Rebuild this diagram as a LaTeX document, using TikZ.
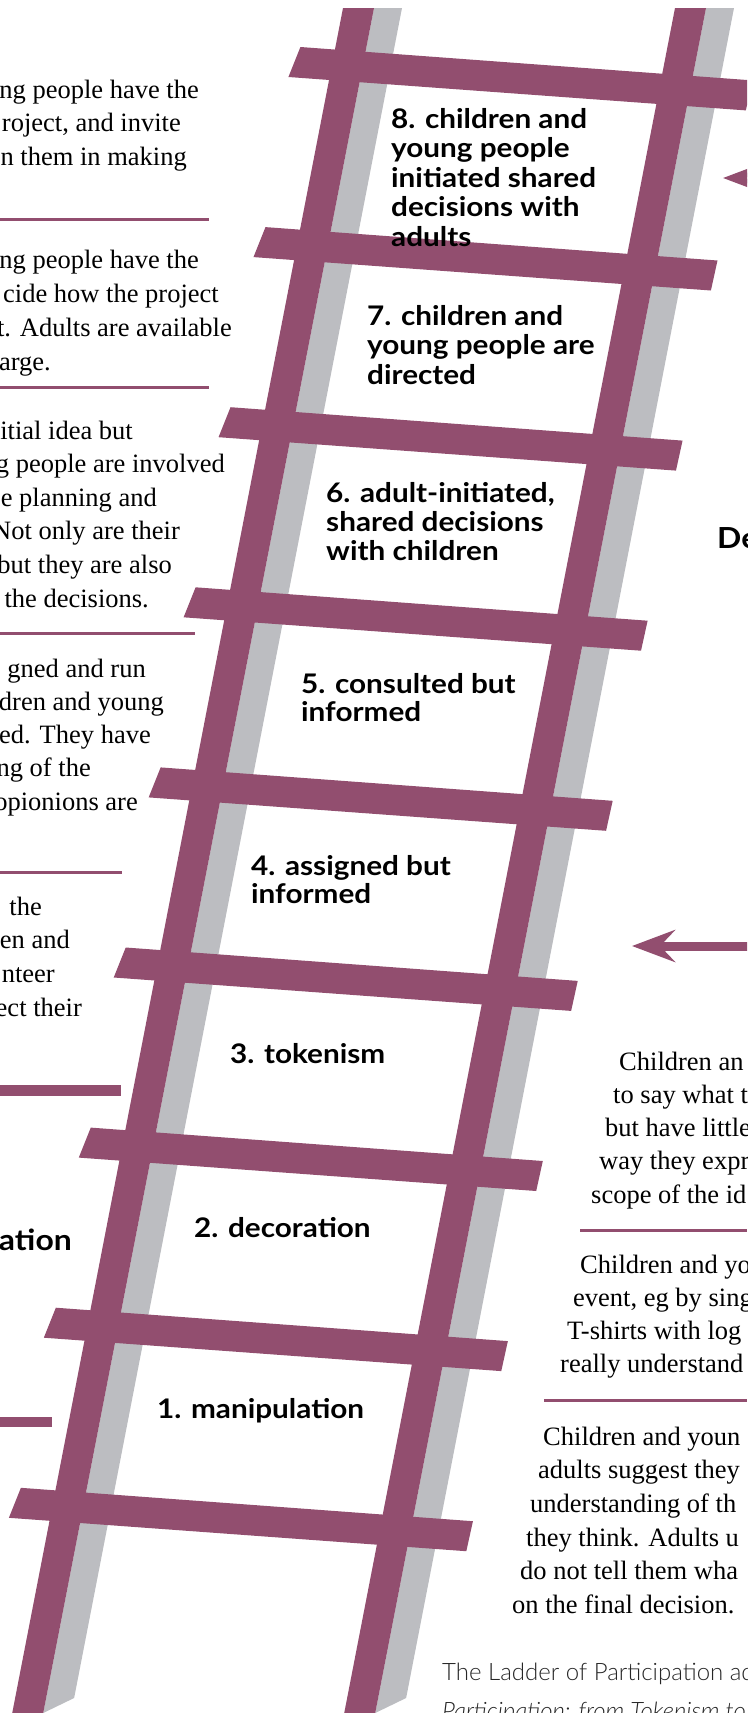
\documentclass[tikz,border=0pt]{standalone}
\usepackage{fontspec}
\setmainfont{Liberation Serif}
\newfontfamily\lblfont{Lato}[FakeStretch=1.1]
\IfFontExistsTF{Lato Light}{\newfontfamily\footfont{Lato Light}}{\newfontfamily\footfont{Lato}}
\usetikzlibrary{arrows.meta}
\definecolor{purp}{RGB}{146,78,111}
\definecolor{railgray}{RGB}{188,189,193}
\newcommand\txtlines[5]{%
  \foreach \xx/\tx [count=\i] in {#5}{%
    \node[#2] (#1\i) at (\xx,{#3+#4*(\i-1)}) {\tx};}}
\begin{document}
\begin{tikzpicture}[x=1pt,y=-1pt,
  body/.style={font=\fontsize{26.5}{33.7}\selectfont, inner sep=0pt, text=black},
  bodyE/.style={body, anchor=base east},
  bodyW/.style={body, anchor=base west},
  lbl/.style={font=\lblfont\bfseries\fontsize{27}{29.3}\selectfont, inner sep=0pt, anchor=base west, text=black},
  bigl/.style={font=\lblfont\bfseries\fontsize{29}{30}\selectfont, inner sep=0pt, text=black},
  foot/.style={font=\footfont\fontsize{24}{28}\selectfont, text=black!85, inner sep=0pt, anchor=base west},
  rail/.style={fill=purp},
  shade/.style={fill=railgray},
  sep/.style={draw=purp, line width=3pt},
  bar/.style={fill=purp},
  arrowline/.style={draw=purp, line width=9pt, -{Stealth[length=43pt,width=32pt,inset=15pt]}}
]
\useasboundingbox (0,0) rectangle (747,1713);
\clip (0,0) rectangle (747,1713);

% shadow faces of the rails
\fill[shade] (374,8) -- (402,8) -- (74.14,1698) -- (43.23,1713) -- (39.93,1730) -- cycle;
\fill[shade] (706,8) -- (734,8) -- (406.14,1698) -- (375.23,1713) -- (371.93,1730) -- cycle;
% rails
\fill[rail] (343,8) -- (374,8) -- (39.93,1730) -- (8.93,1730) -- cycle;
\fill[rail] (675,8) -- (706,8) -- (371.93,1730) -- (340.93,1730) -- cycle;
% rungs
\foreach \k in {1,...,9}{%
  \pgfmathsetmacro\yk{47+180.1*(\k-1)}%
  \pgfmathsetmacro\xk{343-0.194*(\yk-8)-35}%
  \fill[rail] (\xk,\yk) -- ++(452,33.4) -- ++(-6.6,30) -- (\xk-12,\yk+30) -- cycle;
}

% separators, left column
\draw[sep] (0,219) -- (209,219);
\draw[sep] (0,387) -- (209,387);
\draw[sep] (0,633) -- (195,633);
\draw[sep] (0,872) -- (122,872);
\fill[bar] (0,1085) rectangle (121,1096);
\fill[bar] (0,1417) rectangle (52,1427);
% separators, right column
\draw[sep] (580,1230) -- (747,1230);
\draw[sep] (544,1400) -- (747,1400);

% arrows
\coordinate (a1s) at (800,178);
\coordinate (a1e) at (723,178);
\draw[arrowline] (a1s) -- (a1e);
\coordinate (a2s) at (800,946);
\coordinate (a2e) at (632,946);
\draw[arrowline] (a2s) -- (a2e);

% left column text
\txtlines{ta}{bodyE}{98}{33.7}{199/ng people have the, 181/{roject, and invite}, 187/n them in making}
\txtlines{tb}{bodyE}{268}{34}{199/ng people have the, 219/cide how the project, 232/t. Adults are available, 51/harge.}
\txtlines{tc}{bodyE}{439}{33.6}{133/itial idea but, 225/g people are involved, 157/e planning and, 180/Not only are their, 172/but they are also, 149/the decisions.}
\txtlines{td}{bodyE}{677}{33.3}{146/gned and run, 164/dren and young, 151/ed. They have, 91/ng of the, 138/opionions are}
\txtlines{te}{bodyE}{915}{33.7}{42/the, 70/en and, 55/nteer, 82/ect their}

% right column text
\txtlines{ra}{bodyW}{1070}{33.3}{619/Children an, 613/to say what t, 605/but have little, 599/way they expr, 591/scope of the id}
\txtlines{rb}{bodyW}{1273}{33.3}{580/Children and yo, 573/{event, eg by sing}, 567/T-shirts with log, 560/really understand}
\txtlines{rc}{bodyW}{1445}{33.7}{543/Children and youn, 538/adults suggest they, 530/understanding of th, 526/they think. Adults u, 520/do not tell them wha, 512/on the final decision.}

% rung labels
\txtlines{s8-}{lbl}{128}{29.6}{391/8. children and, 391/young people, 391/initiated shared, 391/decisions with, 391/adults}
\txtlines{s7-}{lbl}{325}{29.6}{367/7. children and, 367/young people are, 367/directed}
\txtlines{s6-}{lbl}{502}{29.3}{326/{6. adult-initiated,}, 326/shared decisions, 326/with children}
\txtlines{s5-}{lbl}{693}{28.7}{301/5. consulted but, 301/informed}
\txtlines{s4-}{lbl}{875}{28.7}{251/4. assigned but, 251/informed}
\node[lbl] (s3) at (230,1063) {3. tokenism};
\node[lbl] (s2) at (194,1237) {2. decoration};
\node[lbl] (s1) at (157,1418) {1. manipulation};

% side headings
\node[bigl, anchor=base west] (de) at (717,548) {De};
\node[bigl, anchor=base east] (ation) at (72,1250) {ation};

% footer
\node[foot] (f1) at (442,1680) {The Ladder of Participation ad};
\node[foot] (f2) at (442,1719) {\itshape Participation: from Tokenism to C};
\end{tikzpicture}
\end{document}
